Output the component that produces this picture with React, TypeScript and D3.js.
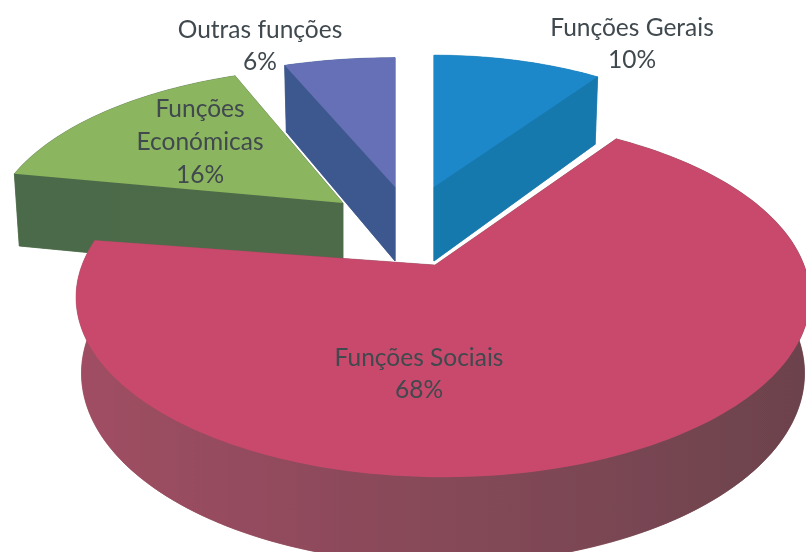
import React from "react";
import * as d3 from "d3";

const categories = ["Funções Gerais", "Funções Sociais", "Funções Económicas", "Outras funções"];
const shares = [10, 68, 16, 6];
const topColors = ["#1d87c9", "#c84a6c", "#8cb55f", "#6570b6"];
const wallFrom = ["#1579ad", "#a04e63", "#4c6b48", "#3c5a90"];
const wallTo = ["#1579ad", "#6c434d", "#526a4c", "#41568c"];

// layout of each exploded slice: pivot and radii on the page
const pivots: [number, number][] = [[434, 187], [435, 265], [343, 203], [395, 187]];
const radiiX = [323, 361, 347, 355];
const radiiY = [158, 174, 162, 155];
const tilts = [0.198, 0.18, 0.198, 0.198];
const rotations = [0, -2.5, 0, 0];
const shiftsX = [0, 8, 0, 0];
const drawOrder = [2, 3, 0, 1];
const depth = 74;
const bottomRx = 0.985;
const bottomRy = 1.06;

const labelLines = [
  { text: "Funções Gerais", x: 632, y: 36 },
  { text: "10%", x: 632, y: 68 },
  { text: "Funções Sociais", x: 419, y: 366 },
  { text: "68%", x: 419, y: 398 },
  { text: "Funções", x: 200, y: 117 },
  { text: "Económicas", x: 200, y: 150 },
  { text: "16%", x: 200, y: 183 },
  { text: "Outras funções", x: 260, y: 38 },
  { text: "6%", x: 260, y: 70 },
];

const pie = d3.pie<number>().sort(null).startAngle(0).endAngle(2 * Math.PI);
const arcs = pie(shares);
const line = d3.line<[number, number]>();

function project(i: number, theta: number, low: boolean): [number, number] {
  const t = theta + (rotations[i] * Math.PI) / 180;
  const X = Math.sin(t);
  const Y = Math.cos(t);
  const s = 1 / (1 + tilts[i] * Y);
  const [px, py] = pivots[i];
  const rx = radiiX[i] * (low ? bottomRx : 1);
  const ry = radiiY[i] * (low ? bottomRy : 1);
  return [px + shiftsX[i] + rx * X * s, py + (low ? depth : 0) - ry * Y * s];
}

function arcPoints(i: number, low: boolean): [number, number][] {
  const a = arcs[i];
  const n = Math.max(8, Math.ceil((a.endAngle - a.startAngle) * 40));
  return d3.range(n + 1).map((k) => project(i, a.startAngle + ((a.endAngle - a.startAngle) * k) / n, low));
}

function pieces(i: number) {
  const [px, py] = pivots[i];
  const top = arcPoints(i, false);
  const bot = arcPoints(i, true);
  const pTop: [number, number] = [px, py];
  const pBot: [number, number] = [px, py + depth];
  return {
    top: line([pTop, ...top]) + "Z",
    walls: [
      line([pBot, ...bot]) + "Z",
      line([...top, ...[...bot].reverse()]) + "Z",
      line([pTop, top[0], bot[0], pBot]) + "Z",
      line([pTop, top[top.length - 1], bot[bot.length - 1], pBot]) + "Z",
    ],
  };
}

export default function App() {
  return (
    <svg
      width={806}
      height={552}
      viewBox="0 0 806 552"
      style={{ position: "fixed", left: 0, top: 0, background: "#fff" }}
    >
      <defs>
        <filter id="scan" x="-5%" y="-5%" width="110%" height="110%">
          <feGaussianBlur stdDeviation="0.7" />
        </filter>
        {categories.map((_, i) => (
          <linearGradient key={i} id={`wall${i}`} gradientUnits="userSpaceOnUse" x1={80} x2={800} y1={0} y2={0}>
            <stop offset="0" stopColor={wallFrom[i]} />
            <stop offset="1" stopColor={wallTo[i]} />
          </linearGradient>
        ))}
      </defs>
      <g filter="url(#scan)">
        {drawOrder.map((i) => {
          const p = pieces(i);
          return (
            <g key={categories[i]}>
              {p.walls.map((d, k) => (
                <path key={k} d={d} fill={`url(#wall${i})`} stroke={`url(#wall${i})`} strokeWidth={0.5} />
              ))}
              <path d={p.top} fill={topColors[i]} />
            </g>
          );
        })}
        <g fontFamily="Lato, 'Open Sans', sans-serif" fontSize={24.5} fill="#3f484e" textAnchor="middle">
          {labelLines.map((l) => (
            <text key={l.text} x={l.x} y={l.y}>
              {l.text}
            </text>
          ))}
        </g>
      </g>
    </svg>
  );
}
